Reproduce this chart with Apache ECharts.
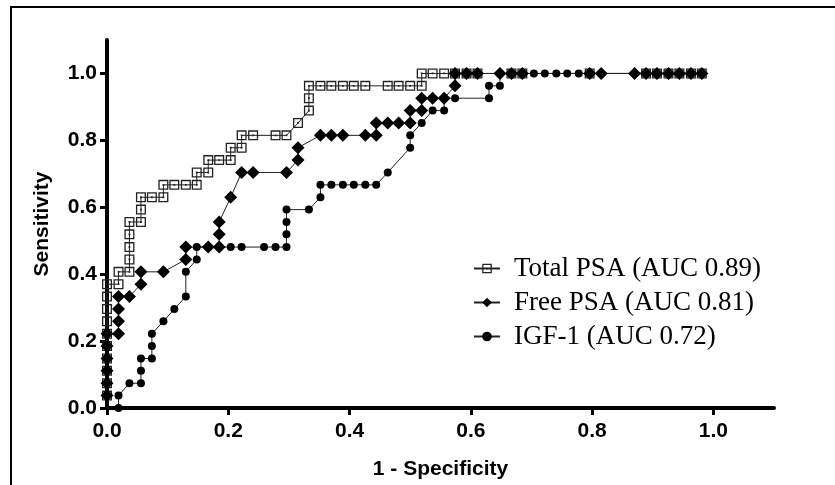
<!DOCTYPE html>
<html>
<head>
<meta charset="utf-8">
<script src="https://cdn.jsdelivr.net/npm/echarts@6.0.0/dist/echarts.min.js"></script>
<style>
  html, body { margin: 0; padding: 0; background: #fff; }
  #roc { width: 835px; height: 485px; }
</style>
</head>
<body>
<div id="roc"></div>
<script>
// axis ticks
var tickValues = [0, 0.2, 0.4, 0.6, 0.8, 1.0];

// Total PSA (AUC 0.89)
var totalX = [0, 0, 0, 0, 0, 0, 0, 0, 0, 0, 0.019, 0.019, 0.037, 0.037, 0.037, 0.037, 0.037,
  0.056, 0.056, 0.056, 0.074, 0.093, 0.093, 0.111, 0.130, 0.148, 0.148, 0.167, 0.167, 0.185,
  0.204, 0.204, 0.222, 0.222, 0.241, 0.278, 0.296, 0.315, 0.333, 0.333, 0.333, 0.352, 0.370,
  0.389, 0.407, 0.426, 0.463, 0.481, 0.500, 0.519, 0.519, 0.537, 0.556, 0.574, 0.593, 0.611,
  0.667, 0.685, 0.796, 0.889, 0.907, 0.926, 0.944, 0.963, 0.981];
var totalY = [0.037, 0.074, 0.111, 0.148, 0.185, 0.222, 0.259, 0.296, 0.333, 0.370, 0.370, 0.407,
  0.407, 0.444, 0.481, 0.519, 0.556, 0.556, 0.593, 0.630, 0.630, 0.630, 0.667, 0.667, 0.667,
  0.667, 0.704, 0.704, 0.741, 0.741, 0.741, 0.778, 0.778, 0.815, 0.815, 0.815, 0.815, 0.852,
  0.889, 0.926, 0.963, 0.963, 0.963, 0.963, 0.963, 0.963, 0.963, 0.963, 0.963, 0.963,
  1, 1, 1, 1, 1, 1, 1, 1, 1, 1, 1, 1, 1, 1, 1];

// Free PSA (AUC 0.81)
var freeX = [0, 0, 0, 0, 0, 0, 0.019, 0.019, 0.019, 0.019, 0.037, 0.056, 0.056, 0.093, 0.130,
  0.130, 0.167, 0.185, 0.185, 0.185, 0.204, 0.222, 0.241, 0.296, 0.315, 0.315, 0.352, 0.370,
  0.389, 0.426, 0.444, 0.444, 0.463, 0.481, 0.500, 0.500, 0.519, 0.519, 0.537, 0.556, 0.574,
  0.574, 0.593, 0.611, 0.648, 0.667, 0.685, 0.796, 0.815, 0.870, 0.889, 0.907, 0.926, 0.944,
  0.963, 0.981];
var freeY = [0.037, 0.074, 0.111, 0.148, 0.185, 0.222, 0.222, 0.259, 0.296, 0.333, 0.333, 0.370,
  0.407, 0.407, 0.444, 0.481, 0.481, 0.481, 0.519, 0.556, 0.630, 0.704, 0.704, 0.704, 0.741,
  0.778, 0.815, 0.815, 0.815, 0.815, 0.815, 0.852, 0.852, 0.852, 0.852, 0.889, 0.889, 0.926,
  0.926, 0.926, 0.963, 1, 1, 1, 1, 1, 1, 1, 1, 1, 1, 1, 1, 1, 1, 1];

// IGF-1 (AUC 0.72)
var igfX = [0.019, 0.019, 0.037, 0.056, 0.056, 0.056, 0.074, 0.074, 0.074, 0.093, 0.111, 0.130,
  0.130, 0.148, 0.148, 0.167, 0.185, 0.204, 0.222, 0.259, 0.278, 0.296, 0.296, 0.296, 0.296,
  0.333, 0.352, 0.352, 0.370, 0.389, 0.407, 0.426, 0.444, 0.463, 0.500, 0.500, 0.519, 0.537,
  0.556, 0.556, 0.574, 0.630, 0.630, 0.648, 0.648, 0.667, 0.685, 0.704, 0.722, 0.741, 0.759,
  0.778, 0.796, 0.889, 0.907, 0.926, 0.944, 0.963, 0.981];
var igfY = [0, 0.037, 0.074, 0.074, 0.111, 0.148, 0.148, 0.185, 0.222, 0.259, 0.296, 0.333,
  0.407, 0.444, 0.481, 0.481, 0.481, 0.481, 0.481, 0.481, 0.481, 0.481, 0.519, 0.556, 0.593,
  0.593, 0.630, 0.667, 0.667, 0.667, 0.667, 0.667, 0.667, 0.704, 0.778, 0.815, 0.852, 0.889,
  0.889, 0.926, 0.926, 0.926, 0.963, 0.963, 1, 1, 1, 1, 1, 1, 1, 1, 1, 1, 1, 1, 1, 1, 1];

var seriesNames = ["Total PSA (AUC 0.89)", "Free PSA (AUC 0.81)", "IGF-1 (AUC 0.72)"];

function zip(xs, ys) {
  var out = [];
  for (var i = 0; i < xs.length; i++) out.push([xs[i], ys[i]]);
  return out;
}

// hollow square with a dot in the middle
var squareDot = "path://M0,0H10V10H0Z M1.3,1.3V8.7H8.7V1.3Z M4.1,4.1H5.9V5.9H4.1Z";

var chart = echarts.init(document.getElementById("roc"), null, { renderer: "canvas" });

var axisCommon = {
  type: "value",
  min: 0,
  max: 1.1,
  interval: 0.2,
  axisLine: { show: true, onZero: false, lineStyle: { color: "#000", width: 4 } },
  axisTick: { show: true, customValues: tickValues, length: 7, lineStyle: { color: "#000", width: 3 } },
  axisLabel: {
    customValues: tickValues,
    color: "#000",
    fontFamily: "Liberation Sans",
    fontWeight: "bold",
    fontSize: 21,
    formatter: function (v) { return v.toFixed(1); }
  },
  splitLine: { show: false },
  nameLocation: "middle",
  nameTextStyle: { color: "#000", fontFamily: "Liberation Sans", fontWeight: "bold", fontSize: 21 }
};

var option = {
  animation: false,
  backgroundColor: "#fff",
  grid: { left: 107, right: 61, top: 40, bottom: 70, containLabel: false },
  xAxis: Object.assign({}, axisCommon, {
    name: "1 - Specificity",
    nameGap: 51,
    axisLabel: Object.assign({}, axisCommon.axisLabel, { margin: 13 })
  }),
  yAxis: Object.assign({}, axisCommon, {
    name: "Sensitivity",
    nameGap: 54,
    axisLabel: Object.assign({}, axisCommon.axisLabel, { margin: 10 })
  }),
  legend: {
    orient: "vertical",
    left: 468,
    top: 250,
    itemWidth: 26,
    itemHeight: 12,
    itemGap: 7,
    textStyle: { color: "#000", fontFamily: "Liberation Serif", fontSize: 27, padding: [0, 0, 0, 9] },
    data: seriesNames
  },
  graphic: [{
    type: "rect",
    shape: { x: 11, y: 7, width: 900, height: 600 },
    style: { fill: "none", stroke: "#000", lineWidth: 2 },
    silent: true
  }],
  series: [
    {
      name: seriesNames[0],
      type: "line",
      data: zip(totalX, totalY),
      symbol: squareDot,
      symbolSize: 10,
      clip: false,
      lineStyle: { color: "#222", width: 1 },
      itemStyle: { color: "#222" }
    },
    {
      name: seriesNames[1],
      type: "line",
      data: zip(freeX, freeY),
      symbol: "diamond",
      symbolSize: 13,
      clip: false,
      lineStyle: { color: "#222", width: 1 },
      itemStyle: { color: "#000" }
    },
    {
      name: seriesNames[2],
      type: "line",
      data: zip(igfX, igfY),
      symbol: "circle",
      symbolSize: 8,
      clip: false,
      lineStyle: { color: "#222", width: 1 },
      itemStyle: { color: "#000" }
    }
  ]
};

chart.setOption(option);
</script>
</body>
</html>
